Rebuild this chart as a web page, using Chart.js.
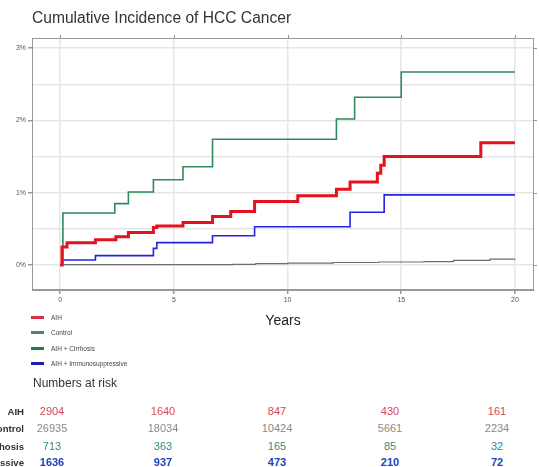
<!DOCTYPE html>
<html>
<head>
<meta charset="utf-8">
<script src="https://cdn.jsdelivr.net/npm/chart.js@4"></script>
<style>
  body { margin: 0; background: #fff; font-family: "Liberation Sans", Arial, sans-serif; }
  #wrap { position: relative; width: 539px; height: 467px; overflow: hidden; background: #fff; }
  #title { position: absolute; left: 32px; top: 9px; font-size: 15.6px; color: #333; white-space: nowrap; }
  #holder { position: absolute; left: 0; top: 0; width: 539px; height: 330px; }
  #legend { position: absolute; left: 31px; top: 310px; font-size: 6.5px; color: #444; }
  #legend div { height: 15.3px; display: flex; align-items: center; white-space: nowrap; }
  #legend span.sw { display: inline-block; width: 13px; height: 3px; margin-right: 7px; }
  #riskTitle { position: absolute; left: 33px; top: 376px; font-size: 12px; color: #333; }
  .rlab { position: absolute; right: 515px; font-size: 9.6px; font-weight: bold; color: #333; white-space: nowrap; }
  .rnum { position: absolute; font-size: 11px; transform: translateX(-50%); white-space: nowrap; }
</style>
</head>
<body>
<div id="wrap">
  <div id="holder"><canvas id="km" width="539" height="330"></canvas></div>
  <div id="title">Cumulative Incidence of HCC Cancer</div>
  <div id="legend"></div>
  <div id="riskTitle">Numbers at risk</div>
</div>
<script>
// tick labels
const xTicks = [0, 5, 10, 15, 20];
const yTicks = [0, 0.5, 1, 1.5, 2, 2.5, 3];

const seriesNames = ['AIH', 'Control', 'AIH + Cirrhosis', 'AIH + Immunosuppressive'];
const riskLabels = ['AIH', 'Control', 'Cirrhosis', 'Immunosuppressive'];

// cumulative incidence (%), step points
const aihYears = [0, 0.08, 0.3, 1.55, 2.45, 3.0, 4.1, 4.25, 5.4, 6.7, 7.5, 8.55, 10.45, 12.15, 12.75, 13.95, 14.1, 14.25, 18.5, 20];
const aihPct   = [0, 0.25, 0.31, 0.35, 0.39, 0.45, 0.52, 0.54, 0.59, 0.67, 0.74, 0.88, 0.96, 1.05, 1.15, 1.27, 1.38, 1.5, 1.69, 1.69];

const controlYears = [0, 0.1, 7.6, 8.6, 10, 12, 14, 16, 17.3, 18.9, 20];
const controlPct   = [0, 0.005, 0.01, 0.02, 0.028, 0.035, 0.042, 0.048, 0.065, 0.083, 0.092];

const cirrYears = [0, 0.12, 2.4, 3.0, 4.1, 5.4, 6.7, 12.15, 12.95, 15.0, 20];
const cirrPct   = [0, 0.72, 0.85, 1.01, 1.18, 1.36, 1.74, 2.02, 2.32, 2.67, 2.67];

const immYears = [0, 0.1, 1.55, 4.1, 4.25, 6.7, 8.55, 12.75, 14.25, 20];
const immPct   = [0, 0.07, 0.13, 0.23, 0.31, 0.405, 0.53, 0.73, 0.97, 0.97];

// numbers at risk at 0, 5, 10, 15, 20 years
const riskAIH     = [2904, 1640, 847, 430, 161];
const riskControl = [26935, 18034, 10424, 5661, 2234];
const riskCirr    = [713, 363, 165, 85, 32];
const riskImm     = [1636, 937, 473, 210, 72];

const lineColors  = ['#e3121e', '#6e6e6e', '#2e8b5a', '#2424e0'];
const legendColors = ['#d8304a', '#5e7e6c', '#2a7a4a', '#1a20b0'];
const riskColors  = ['#d8485a', '#8a8a8a', '#3a8a80', '#2244b8'];
const lineWidths  = [3, 1.2, 1.6, 1.6];

function pts(xs, ys) {
  return xs.map((x, i) => ({ x: x, y: ys[i] }));
}

const allData = [
  pts(aihYears, aihPct),
  pts(controlYears, controlPct),
  pts(cirrYears, cirrPct),
  pts(immYears, immPct)
];

const boxPlugin = {
  id: 'box',
  beforeDatasetsDraw(chart) {
    const a = chart.chartArea, c = chart.ctx;
    c.save();
    c.strokeStyle = '#999';
    c.lineWidth = 1;
    c.strokeRect(a.left + 0.5, a.top + 0.5, a.right - a.left - 1, a.bottom - a.top - 1);
    // little ticks on top and right edges
    const xs = chart.scales.x, ys = chart.scales.y;
    c.beginPath();
    xTicks.forEach(v => { const p = Math.round(xs.getPixelForValue(v)) + 0.5; c.moveTo(p, a.top - 3); c.lineTo(p, a.top); });
    [0, 1, 2, 3].forEach(v => { const p = Math.round(ys.getPixelForValue(v)) + 0.5; c.moveTo(a.right, p); c.lineTo(a.right + 3, p); });
    c.stroke();
    c.restore();
  }
};

new Chart(document.getElementById('km').getContext('2d'), {
  type: 'line',
  data: {
    datasets: seriesNames.map((name, i) => ({
      label: name,
      data: allData[i],
      borderColor: lineColors[i],
      backgroundColor: lineColors[i],
      borderWidth: lineWidths[i],
      stepped: 'before',
      pointRadius: 0,
      fill: false
    }))
  },
  options: {
    responsive: false,
    animation: false,
    layout: { padding: { left: 0, right: 5, top: 38, bottom: 0 } },
    plugins: { legend: { display: false }, tooltip: { enabled: false } },
    scales: {
      x: {
        type: 'linear',
        min: -1.24,
        max: 20.84,
        afterBuildTicks: s => { s.ticks = xTicks.map(v => ({ value: v })); },
        afterFit: s => { s.height = 40; },
        ticks: { font: { size: 7 }, color: '#555', padding: 2 },
        grid: { color: '#e6e6e6', lineWidth: 1.5, tickLength: 4, tickColor: '#999' },
        border: { color: '#999' },
        title: { display: true, text: 'Years', font: { size: 14 }, color: '#222', padding: { top: 4, bottom: 0 } }
      },
      y: {
        min: -0.345,
        max: 3.14,
        afterBuildTicks: s => { s.ticks = yTicks.map(v => ({ value: v })); },
        afterFit: s => { s.width = 32; },
        ticks: {
          font: { size: 7 }, color: '#555', padding: 2,
          callback: v => (v % 1 === 0 ? v + '%' : '')
        },
        grid: {
          color: '#e6e6e6', lineWidth: 1.5, tickLength: 4,
          tickColor: c => (c.tick && c.tick.value % 1 === 0 ? '#999' : 'rgba(0,0,0,0)')
        },
        border: { color: '#999' }
      }
    }
  },
  plugins: [boxPlugin]
});

// legend
const leg = document.getElementById('legend');
seriesNames.forEach((name, i) => {
  const row = document.createElement('div');
  row.innerHTML = '<span class="sw" style="background:' + legendColors[i] + '"></span>' + name;
  leg.appendChild(row);
});

// numbers at risk table
const wrap = document.getElementById('wrap');
const riskRows = [riskAIH, riskControl, riskCirr, riskImm];
const rowTops = [405, 422, 440, 456];
const colCenters = [52, 163, 277, 390, 497];
riskRows.forEach((vals, r) => {
  const lab = document.createElement('div');
  lab.className = 'rlab';
  lab.style.top = (rowTops[r] + 1) + 'px';
  lab.textContent = riskLabels[r];
  wrap.appendChild(lab);
  vals.forEach((v, c) => {
    const d = document.createElement('div');
    d.className = 'rnum';
    d.style.left = colCenters[c] + 'px';
    d.style.top = rowTops[r] + 'px';
    d.style.color = riskColors[r];
    if (r === 3) d.style.fontWeight = 'bold';
    d.textContent = v;
    wrap.appendChild(d);
  });
});
</script>
</body>
</html>
